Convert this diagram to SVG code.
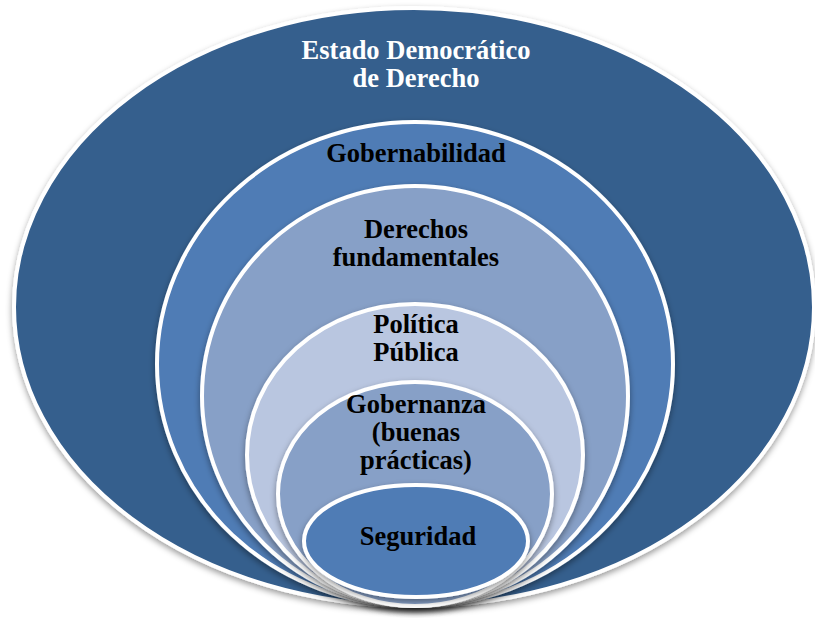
<svg xmlns="http://www.w3.org/2000/svg" width="815" height="619" viewBox="0 0 815 619">
<defs>
<filter id="sh" x="-10%" y="-10%" width="120%" height="125%">
<feDropShadow dx="0" dy="3" stdDeviation="3" flood-color="#000" flood-opacity="0.4"/>
</filter>
</defs>
<style>
.e{stroke:#fff;stroke-width:4;filter:url(#sh)}
.t{font-family:"Liberation Serif","Times New Roman",serif;font-weight:bold;font-size:26.5px;text-anchor:middle;fill:#000}
.w{fill:#fff}
</style>
<rect width="815" height="619" fill="#fff"/>
<g id="estado">
<ellipse class="e" cx="414" cy="307" rx="400" ry="299" fill="#365F8D"/>
<text class="t w" x="416" y="59">Estado Democrático</text>
<text class="t w" x="416" y="87">de Derecho</text>
</g>
<g id="gobernabilidad">
<ellipse class="e" cx="415" cy="364" rx="258" ry="242" fill="#4F7BB5"/>
<text class="t" x="416" y="162">Gobernabilidad</text>
</g>
<g id="derechos">
<ellipse class="e" cx="415" cy="396" rx="213" ry="210" fill="#87A0C7"/>
<text class="t" x="416" y="238">Derechos</text>
<text class="t" x="416" y="266">fundamentales</text>
</g>
<g id="politica">
<ellipse class="e" cx="415" cy="455" rx="168" ry="151" fill="#B9C6E0"/>
<text class="t" x="416" y="333">Política</text>
<text class="t" x="416" y="361">Pública</text>
</g>
<g id="gobernanza">
<ellipse class="e" cx="415" cy="494" rx="137" ry="112" fill="#87A0C7"/>
<text class="t" x="416" y="413">Gobernanza</text>
<text class="t" x="416" y="441">(buenas</text>
<text class="t" x="416" y="469">prácticas)</text>
</g>
<g id="seguridad">
<ellipse class="e" cx="416" cy="541" rx="112" ry="56" fill="#4F7BB5"/>
<text class="t" x="418" y="545">Seguridad</text>
</g>
<g id="connectors"/>
</svg>
